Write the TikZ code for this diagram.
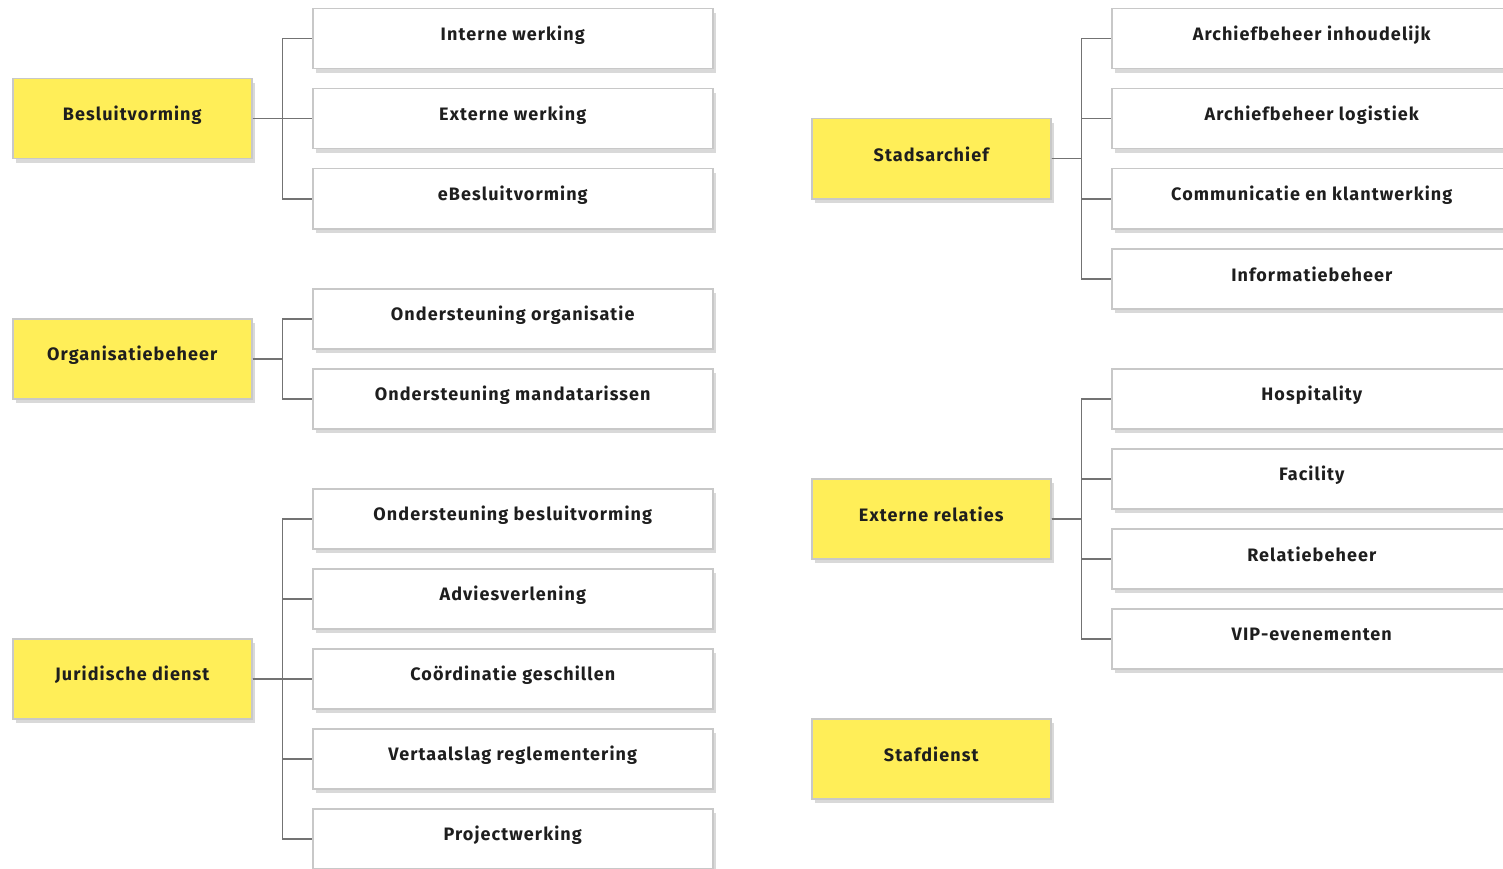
\documentclass[tikz,border=0pt]{standalone}
\usepackage{fontspec}
\setmainfont{Fira Sans}[LetterSpace=6]
\usetikzlibrary{shadows}
\definecolor{ylw}{RGB}{255,238,88}
\definecolor{bord}{RGB}{200,200,200}
\definecolor{conncol}{RGB}{115,115,115}
\definecolor{txt}{RGB}{30,30,30}
\tikzset{
  boxbase/.style={draw=bord, line width=1.5pt, inner sep=0pt, anchor=north west,
    drop shadow={shadow xshift=3pt, shadow yshift=-4pt, fill=black, opacity=0.15}},
  ybox/.style={boxbase, fill=ylw, minimum width=239pt, minimum height=80pt},
  wbox/.style={boxbase, fill=white, minimum width=400pt, minimum height=60pt},
  conn/.style={draw=conncol, line width=1.5pt},
  lbl/.style={font=\fontsize{18}{21}\selectfont\bfseries, text=txt}
}
\begin{document}
\begin{tikzpicture}[x=1pt,y=-1pt]
\useasboundingbox (0,0) rectangle (1503,869);
\clip (0,0) rectangle (1503,869);
% left yellow
\node[ybox] (bes) at (12,78) {};
\node[ybox] (org) at (12,318) {};
\node[ybox] (jur) at (12,638) {};
% right yellow
\node[ybox] (sta) at (811,118) {};
\node[ybox] (ext) at (811,478) {};
\node[ybox] (saf) at (811,718) {};
% left white
\node[wbox] (a1) at (312,8) {};
\node[wbox] (a2) at (312,88) {};
\node[wbox] (a3) at (312,168) {};
\node[wbox] (b1) at (312,288) {};
\node[wbox] (b2) at (312,368) {};
\node[wbox] (c1) at (312,488) {};
\node[wbox] (c2) at (312,568) {};
\node[wbox] (c3) at (312,648) {};
\node[wbox] (c4) at (312,728) {};
\node[wbox] (c5) at (312,808) {};
% right white
\node[wbox] (d1) at (1111,8) {};
\node[wbox] (d2) at (1111,88) {};
\node[wbox] (d3) at (1111,168) {};
\node[wbox] (d4) at (1111,248) {};
\node[wbox] (e1) at (1111,368) {};
\node[wbox] (e2) at (1111,448) {};
\node[wbox] (e3) at (1111,528) {};
\node[wbox] (e4) at (1111,608) {};
% labels
\foreach \n/\t in {bes/Besluitvorming, org/Organisatiebeheer, jur/Juridische dienst,
  sta/Stadsarchief, ext/Externe relaties, saf/Stafdienst,
  a1/Interne werking, a2/Externe werking, a3/eBesluitvorming,
  b1/Ondersteuning organisatie, b2/Ondersteuning mandatarissen,
  c1/Ondersteuning besluitvorming, c2/Adviesverlening, c3/Coördinatie geschillen,
  c4/Vertaalslag reglementering, c5/Projectwerking,
  d1/Archiefbeheer inhoudelijk, d2/Archiefbeheer logistiek, d3/Communicatie en klantwerking,
  d4/Informatiebeheer, e1/Hospitality, e2/Facility, e3/Relatiebeheer, e4/VIP-evenementen}
  \node[lbl] (\n-t) at ([yshift=4pt]\n.center) {\t};
% connectors
\foreach \p/\cs in {bes/{a1,a2,a3}, org/{b1,b2}, jur/{c1,c2,c3,c4,c5}, sta/{d1,d2,d3,d4}, ext/{e1,e2,e3,e4}}
  \foreach \c in \cs
    \draw[conn] (\p.east) -- ([xshift=30pt]\p.east) |- (\c.west);
\end{tikzpicture}
\end{document}
